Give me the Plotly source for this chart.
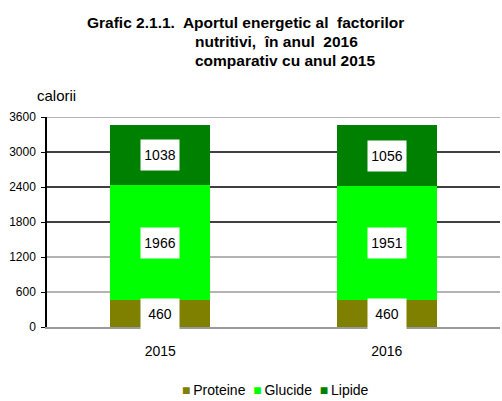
import plotly.graph_objects as go

years = ["2015", "2016"]
proteine = [460, 460]
glucide = [1966, 1951]
lipide = [1038, 1056]
series_names = ["Proteine", "Glucide", "Lipide"]
colors = ["#808000", "#00FF00", "#008000"]
y_ticks = [0, 600, 1200, 1800, 2400, 3000, 3600]
y_ticks_dark = [1800, 2400, 3000]
y_ticks_light = [600, 1200, 3600]

fig = go.Figure()
series = [proteine, glucide, lipide]
for name, vals, col in zip(series_names, series, colors):
    fig.add_trace(go.Bar(x=years, y=vals, name=name, marker=dict(color=col, line=dict(width=0)),
                         width=0.44, showlegend=False))

# gridlines below the bars, taken from the tick arrays
for t in y_ticks_light:
    fig.add_shape(type="line", xref="paper", x0=0, x1=1, yref="y", y0=t, y1=t, layer="below",
                  line=dict(color="#9a9a9a", width=1.5))
for t in y_ticks_dark:
    fig.add_shape(type="line", xref="paper", x0=0, x1=1, yref="y", y0=t, y1=t, layer="below",
                  line=dict(color="black", width=1.5))

# value labels in white boxes
for i, yr in enumerate(years):
    base = 0
    for vals in series:
        v = vals[i]
        fig.add_annotation(x=i, y=base + v / 2, text=str(v), showarrow=False,
                           bgcolor="white", borderpad=0, width=38, height=30,
                           font=dict(family="Arial", size=14, color="black"))
        base += v

fig.add_annotation(xref="paper", yref="paper", x=0.022, y=1.10, xanchor="center", yanchor="middle",
                   text="calorii", showarrow=False, font=dict(family="Arial", size=15, color="black"))

title_lines = [
    ("Grafic 2.1.1.  Aportul energetic al  factorilor", 85, 22),
    ("nutritivi,  în anul  2016", 193, 42),
    ("comparativ cu anul 2015", 193, 60),
]
for txt, px, py in title_lines:
    fig.add_annotation(xref="paper", yref="paper",
                       x=(px - 47) / 453, y=(327 - py) / 210, xanchor="left", yanchor="middle",
                       text="<b>" + txt + "</b>", showarrow=False,
                       font=dict(family="Arial", size=15.5, color="black"))

# legend as text
legend_html = "  ".join(
    '<span style="color:%s">■</span>\u2009%s' % (c, n) for n, c in zip(series_names, colors)
)
fig.add_annotation(xref="paper", yref="paper", x=(275 - 47) / 453, y=(327 - 390) / 210,
                   xanchor="center", yanchor="middle", text=legend_html, showarrow=False,
                   font=dict(family="Arial", size=14, color="black"))

fig.update_layout(
    barmode="stack",
    width=502, height=401,
    margin=dict(l=47, r=2, t=117, b=74, autoexpand=False),
    paper_bgcolor="white", plot_bgcolor="white",
    font=dict(family="Arial", size=12, color="black"),
    showlegend=False,
    bargap=0.56,
    yaxis=dict(range=[0, 3600], tickvals=y_ticks, ticktext=[str(t) for t in y_ticks],
               showgrid=False, showline=True, linecolor="black", linewidth=1.5,
               ticks="outside", ticklen=4, tickcolor="black", ticklabelstandoff=3,
               tickfont=dict(family="Arial", size=12), zeroline=False, automargin=False),
    xaxis=dict(type="category", range=[-0.5, 1.5], showline=True, linecolor="#9a9a9a", linewidth=2,
               ticks="", tickfont=dict(family="Arial", size=14), ticklabelstandoff=10,
               automargin=False),
)

fig.write_html("out.html", config={"displayModeBar": False},
               post_script="document.body.style.margin='0';")
